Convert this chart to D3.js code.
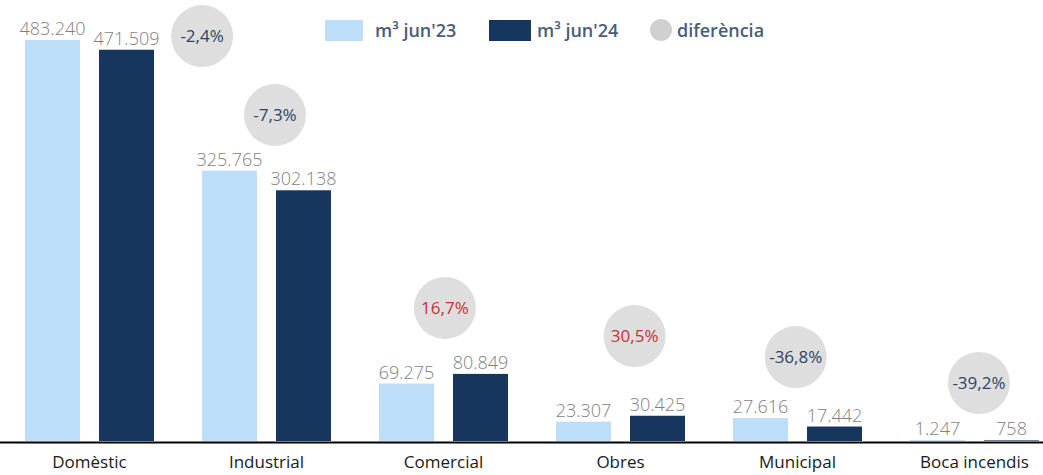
<!DOCTYPE html>
<html>
<head>
<meta charset="utf-8">
<script src="https://cdn.jsdelivr.net/npm/d3@7"></script>
<style>
  body { margin: 0; background: #fff; }
  svg { display: block; font-family: "Open Sans", "Noto Sans", sans-serif; }
</style>
</head>
<body>
<svg id="chart"></svg>
<script>
const categories = ['Domèstic', 'Industrial', 'Comercial', 'Obres', 'Municipal', 'Boca incendis'];
const jun23 = [483240, 325765, 69275, 23307, 27616, 1247];
const jun24 = [471509, 302138, 80849, 30425, 17442, 758];
const diffLabels = ['-2,4%', '-7,3%', '16,7%', '30,5%', '-36,8%', '-39,2%'];
// where the "diferència" bubbles sit: category index and height in m³ units
const bubbleIdx = [0.636, 1.048, 2.008, 3.08, 3.99, 5.025];
const bubbleVal = [488000, 392900, 160300, 126500, 101200, 69900];
const seriesNames = ["m³ jun'23", "m³ jun'24", 'diferència'];

const W = 1043, H = 475;
const baseY = 441;
const fmt = v => d3.format(',')(v).replace(/,/g, '.');

const svg = d3.select('#chart')
    .attr('width', W)
    .attr('height', H);

const x = d3.scaleBand()
    .domain(categories)
    .range([1, 1063])
    .padding(0);

const xSub = d3.scaleBand()
    .domain(['a', 'b'])
    .range([0, x.bandwidth()])
    .paddingInner(19 / 74)
    .paddingOuter(0.3243);

const xIdx = d3.scaleLinear()
    .domain([0, 6])
    .range([1, 1063]);

const y = d3.scaleLinear()
    .domain([0, 483240])
    .range([baseY, 40]);

const colors = { a: '#bddef8', b: '#17365d' };

const rows = categories.map((c, i) => ({ cat: c, a: jun23[i], b: jun24[i] }));

const grp = svg.selectAll('.cat')
    .data(rows)
    .enter().append('g')
    .attr('class', 'cat')
    .attr('transform', d => `translate(${x(d.cat)},0)`);

['a', 'b'].forEach(k => {
    grp.append('rect')
        .attr('x', xSub(k))
        .attr('y', d => y(d[k]))
        .attr('width', xSub.bandwidth())
        .attr('height', d => baseY - y(d[k]))
        .attr('fill', colors[k]);

    grp.append('text')
        .attr('x', xSub(k) + xSub.bandwidth() / 2)
        .attr('y', d => y(d[k]) - 5)
        .attr('text-anchor', 'middle')
        .attr('font-size', 18)
        .attr('font-weight', 300)
        .attr('fill', '#7f7f7f')
        .text(d => fmt(d[k]));
});

// axis line
svg.append('line')
    .attr('x1', 0).attr('x2', W)
    .attr('y1', baseY + 1.5).attr('y2', baseY + 1.5)
    .attr('stroke', '#000')
    .attr('stroke-width', 2);

svg.selectAll('.catlabel')
    .data(categories)
    .enter().append('text')
    .attr('x', d => x(d) + x.bandwidth() / 2)
    .attr('y', 468)
    .attr('text-anchor', 'middle')
    .attr('font-size', 17)
    .attr('fill', '#1a1a1a')
    .text(d => d);

// bubbles
const bub = svg.selectAll('.bub')
    .data(diffLabels)
    .enter().append('g')
    .attr('transform', (d, i) => `translate(${xIdx(bubbleIdx[i] + 0.5)},${y(bubbleVal[i])})`);

bub.append('circle')
    .attr('r', 31)
    .attr('fill', '#dedede');

bub.append('text')
    .attr('text-anchor', 'middle')
    .attr('dy', '0.35em')
    .attr('font-size', 17)
    .attr('fill', d => d.startsWith('-') ? '#2b4468' : '#c8322d')
    .text(d => d);

// legend
const legend = svg.append('g').attr('font-size', 18).attr('font-weight', 600).attr('fill', '#4a5d78');
legend.append('rect').attr('x', 325).attr('y', 20).attr('width', 38).attr('height', 21).attr('fill', colors.a);
legend.append('text').attr('x', 375).attr('y', 37).text(seriesNames[0]);
legend.append('rect').attr('x', 489).attr('y', 20).attr('width', 42).attr('height', 21).attr('fill', colors.b);
legend.append('text').attr('x', 537).attr('y', 37).text(seriesNames[1]);
legend.append('circle').attr('cx', 661).attr('cy', 30).attr('r', 11).attr('fill', '#d0d0d0');
legend.append('text').attr('x', 677).attr('y', 37).text(seriesNames[2]);
</script>
</body>
</html>
